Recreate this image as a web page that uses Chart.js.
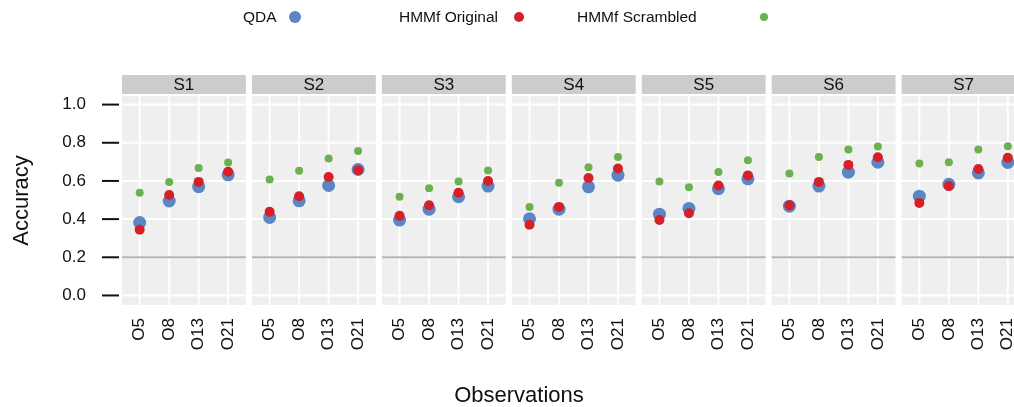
<!DOCTYPE html>
<html>
<head>
<meta charset="utf-8">
<script src="https://cdn.jsdelivr.net/npm/chart.js@4.4.1/dist/chart.umd.min.js"></script>
<style>
  html, body { margin: 0; padding: 0; background: #fff; overflow: hidden; }
  #wrap { position: relative; width: 1032px; height: 407px; }
  #chart { display: block; }
  .legend { position: absolute; top: 0; left: 0; width: 1014px; height: 34px;
            font-family: "Liberation Sans", Arial, sans-serif; font-size: 15.5px; color: #111; }
  .legend span { position: absolute; top: 8px; line-height: 18px; }
  .legend i { position: absolute; border-radius: 50%; }
</style>
</head>
<body>
<div id="wrap">
  <canvas id="chart" width="1032" height="407"></canvas>
  <div class="legend">
    <span style="left:243px">QDA</span><i style="left:289px;top:11px;width:12px;height:12px;background:#5b86c5"></i>
    <span style="left:399px">HMMf Original</span><i style="left:514px;top:12px;width:10px;height:10px;background:#d62028"></i>
    <span style="left:577px">HMMf Scrambled</span><i style="left:760px;top:13px;width:8px;height:8px;background:#6cb04f"></i>
  </div>
</div>
<script>
const subjects = ['S1', 'S2', 'S3', 'S4', 'S5', 'S6', 'S7'];
const observations = ['O5', 'O8', 'O13', 'O21'];
const yTicks = [0.0, 0.2, 0.4, 0.6, 0.8, 1.0];
const chance = 0.2;

// one row per subject, one value per observation count
const qda = [
  [0.382, 0.495, 0.570, 0.632],
  [0.409, 0.496, 0.576, 0.660],
  [0.395, 0.452, 0.517, 0.573],
  [0.402, 0.452, 0.569, 0.630],
  [0.426, 0.456, 0.559, 0.611],
  [0.468, 0.573, 0.646, 0.698],
  [0.520, 0.582, 0.642, 0.697]
];
const hmmOriginal = [
  [0.344, 0.526, 0.595, 0.648],
  [0.438, 0.520, 0.621, 0.656],
  [0.417, 0.473, 0.538, 0.600],
  [0.370, 0.464, 0.615, 0.665],
  [0.395, 0.431, 0.576, 0.629],
  [0.472, 0.595, 0.684, 0.724],
  [0.485, 0.573, 0.663, 0.721]
];
const hmmScrambled = [
  [0.538, 0.595, 0.668, 0.696],
  [0.608, 0.653, 0.718, 0.757],
  [0.517, 0.562, 0.597, 0.655],
  [0.463, 0.590, 0.672, 0.726],
  [0.597, 0.567, 0.647, 0.709],
  [0.639, 0.726, 0.765, 0.780],
  [0.691, 0.698, 0.765, 0.782]
];

const colors = ['#5b86c5', '#d62028', '#6cb04f'];
const FONT = '"Liberation Sans", Arial, sans-serif';

// facets share one linear x axis: each panel is 4 categories + 0.6 padding each side
const expand = 0.6;
const panelWidth = observations.length - 1 + 2 * expand;
const pitch = panelWidth + 0.207;

function toPoints(rows) {
  const pts = [];
  rows.forEach((row, p) => {
    row.forEach((v, i) => pts.push({ x: p * pitch + i + 1, y: v }));
  });
  return pts;
}

function line(ctx, x1, y1, x2, y2) {
  ctx.beginPath();
  ctx.moveTo(x1, y1);
  ctx.lineTo(x2, y2);
  ctx.stroke();
}

const facetPlugin = {
  id: 'facets',
  beforeDatasetsDraw(chart) {
    const { ctx, chartArea, scales: { x, y } } = chart;
    ctx.save();
    subjects.forEach((s, p) => {
      const left = x.getPixelForValue(p * pitch + 1 - expand);
      const right = x.getPixelForValue(p * pitch + observations.length + expand);
      ctx.fillStyle = '#efefef';
      ctx.fillRect(left, chartArea.top, right - left, chartArea.bottom - chartArea.top);

      ctx.strokeStyle = '#ffffff';
      ctx.lineWidth = 2;
      yTicks.forEach(t => {
        const py = y.getPixelForValue(t);
        line(ctx, left, py, right, py);
      });
      observations.forEach((o, i) => {
        const px = x.getPixelForValue(p * pitch + i + 1);
        line(ctx, px, chartArea.top, px, chartArea.bottom);
      });

      ctx.strokeStyle = '#b4b4b4';
      const cy = y.getPixelForValue(chance);
      line(ctx, left, cy, right, cy);

      // strip label
      ctx.fillStyle = '#cccccc';
      ctx.fillRect(left, chartArea.top - 21, right - left, 19);
      ctx.fillStyle = '#111';
      ctx.font = '17px ' + FONT;
      ctx.textAlign = 'center';
      ctx.textBaseline = 'middle';
      ctx.fillText(s, (left + right) / 2, chartArea.top - 11);
    });

    // y tick marks, detached from the panel
    ctx.strokeStyle = '#111';
    ctx.lineWidth = 2;
    yTicks.forEach(t => {
      const py = y.getPixelForValue(t);
      line(ctx, chartArea.left - 20, py, chartArea.left - 3, py);
    });
    ctx.restore();
  }
};

new Chart(document.getElementById('chart').getContext('2d'), {
  type: 'scatter',
  data: {
    datasets: [{
      label: 'QDA',
      data: toPoints(qda),
      backgroundColor: colors[0],
      pointRadius: 6.5,
      borderWidth: 0,
      order: 3
    }, {
      label: 'HMMf Original',
      data: toPoints(hmmOriginal),
      backgroundColor: colors[1],
      pointRadius: 5,
      borderWidth: 0,
      order: 2
    }, {
      label: 'HMMf Scrambled',
      data: toPoints(hmmScrambled),
      backgroundColor: colors[2],
      pointRadius: 4,
      borderWidth: 0,
      order: 1
    }]
  },
  options: {
    responsive: false,
    animation: false,
    events: [],
    layout: { padding: { top: 96, left: 6, right: 0, bottom: 0 } },
    plugins: {
      legend: { display: false },
      tooltip: { enabled: false },
      title: {
        display: true,
        position: 'bottom',
        text: 'Observations',
        color: '#111',
        font: { family: FONT, size: 22, weight: 'normal', lineHeight: 1 },
        padding: { top: 0, bottom: 0 }
      }
    },
    scales: {
      x: {
        type: 'linear',
        min: 1 - expand,
        max: (subjects.length - 1) * pitch + observations.length + expand,
        afterBuildTicks: scale => {
          scale.ticks = [];
          subjects.forEach((s, p) => observations.forEach((o, i) => scale.ticks.push({ value: p * pitch + i + 1 })));
        },
        afterFit: scale => {
          scale.height = 80;
          scale.paddingLeft = 0;
          scale.paddingRight = 0;
        },
        grid: { display: false, drawTicks: false },
        border: { display: false },
        ticks: {
          autoSkip: false,
          minRotation: 90,
          maxRotation: 90,
          padding: 13,
          color: '#111',
          font: { family: FONT, size: 17 },
          callback: (v, i) => observations[i % observations.length]
        }
      },
      y: {
        min: -0.05,
        max: 1.045,
        afterBuildTicks: scale => { scale.ticks = yTicks.map(v => ({ value: v })); },
        afterFit: scale => {
          scale.width = 116;
          scale.paddingTop = 0;
          scale.paddingBottom = 0;
        },
        grid: { display: false, drawTicks: false },
        border: { display: false },
        ticks: {
          padding: 36,
          color: '#111',
          font: { family: FONT, size: 17 },
          callback: v => v.toFixed(1)
        },
        title: {
          display: true,
          text: 'Accuracy',
          color: '#111',
          font: { family: FONT, size: 22, lineHeight: 1 },
          padding: { top: 5, bottom: 0 }
        }
      }
    }
  },
  plugins: [facetPlugin]
});
</script>
</body>
</html>
